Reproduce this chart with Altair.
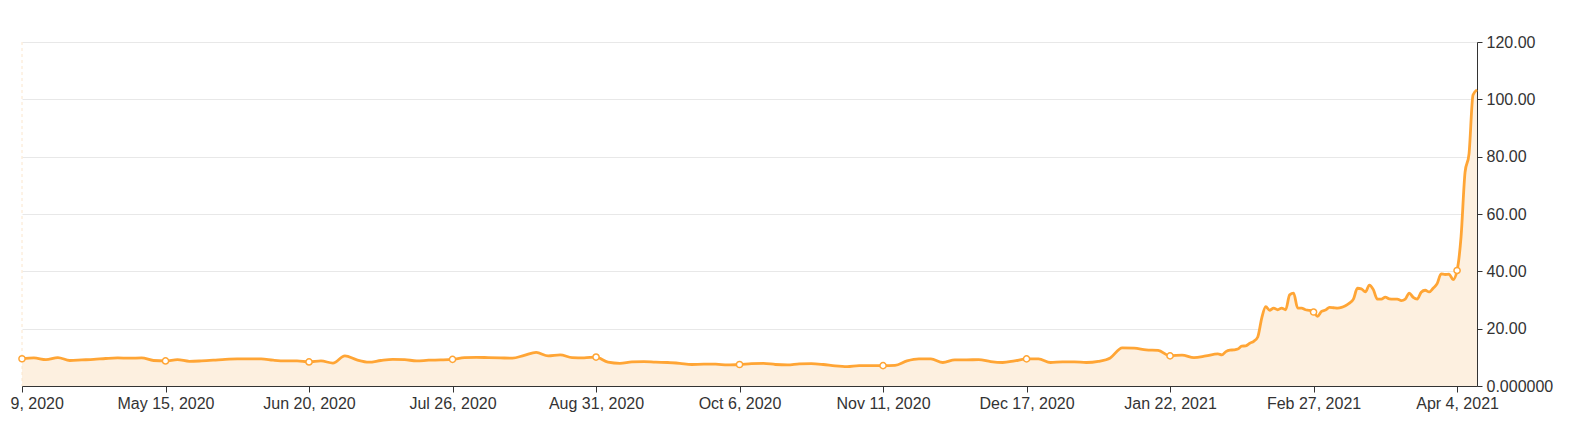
import altair as alt
import pandas as pd

start_date = "2020-04-09"

day_offsets = [
    0, 3, 6, 9, 12, 15, 18, 21, 24, 27, 30, 33, 36, 39, 42, 45, 48, 51, 54, 57,
    60, 63, 66, 69, 72, 75, 78, 81, 84, 87, 90, 93, 96, 99, 102, 105, 108, 111, 114, 117,
    120, 123, 126, 129, 132, 135, 138, 141, 144, 147, 150, 153, 156, 159, 162, 165, 168, 171, 174, 177,
    180, 183, 186, 189, 192, 195, 198, 201, 204, 207, 210, 213, 216, 219, 222, 225, 228, 231, 234, 237,
    240, 243, 246, 249, 252, 255, 258, 261, 264, 267, 270, 273, 276, 279, 282, 285, 288, 291, 294, 297,
    300, 301, 302, 303, 304, 305, 306, 307, 308, 309, 310, 311, 312, 313, 314, 315, 316, 317, 318, 319,
    320, 321, 322, 323, 324, 325, 326, 327, 328, 329, 330, 331, 332, 333, 334, 335, 336, 337, 338, 339,
    340, 341, 342, 343, 344, 345, 346, 347, 348, 349, 350, 351, 352, 353, 354, 355, 356, 357, 358, 359,
    360, 361, 362, 363, 364, 365,
]

prices = [
    9.5, 9.8, 9.2, 9.9, 8.9, 9.1, 9.3, 9.6, 9.8, 9.7, 9.8, 8.9, 8.75, 9.2, 8.6, 8.75, 9.0, 9.3, 9.45, 9.45,
    9.45, 9.0, 8.75, 8.75, 8.4, 8.75, 8.0, 10.5, 9.1, 8.3, 8.9, 9.3, 9.2, 8.75, 9.0, 9.1, 9.3, 9.9, 10.0, 9.9,
    9.8, 9.7, 10.7, 11.7, 10.5, 10.85, 9.9, 9.8, 10.1, 8.3, 7.9, 8.4, 8.5, 8.3, 8.2, 7.9, 7.5, 7.6, 7.6, 7.35,
    7.5, 7.8, 7.9, 7.5, 7.35, 7.7, 7.8, 7.5, 7.0, 6.75, 7.1, 7.1, 7.1, 7.2, 8.75, 9.45, 9.45, 8.2, 9.1, 9.1,
    9.2, 8.5, 8.2, 8.75, 9.45, 9.45, 8.2, 8.4, 8.4, 8.2, 8.6, 9.8, 13.3, 13.2, 12.6, 12.4, 10.5, 10.8, 9.9, 10.5,
    11.2, 10.85, 12.0, 12.5, 12.6, 12.9, 13.9, 14.0, 14.9, 15.6, 17.1, 23.7, 27.7, 26.4, 27.2, 26.6, 27.2, 26.6, 31.8, 32.4,
    27.2, 27.2, 26.6, 26.4, 25.8, 24.3, 26.0, 26.5, 27.4, 27.3, 27.2, 27.4, 28.0, 28.9, 30.3, 34.1, 33.9, 32.8, 35.2, 33.6,
    30.3, 30.3, 31.0, 30.4, 30.3, 30.3, 29.8, 30.3, 32.4, 30.9, 30.3, 32.7, 33.4, 32.8, 34.1, 35.7, 39.1, 38.9, 39.0, 37.1,
    40.3, 52.0, 74.5, 81.0, 101.5, 103.3,
]

tick_dates = [
    "2020-04-09", "2020-05-15", "2020-06-20", "2020-07-26", "2020-08-31", "2020-10-06",
    "2020-11-11", "2020-12-17", "2021-01-22", "2021-02-27", "2021-04-04",
]
y_ticks = [0, 20, 40, 60, 80, 100, 120]

LINE = "#FFA535"
FILL = "#FDF0E0"

base_day = pd.Timestamp(start_date)
df = pd.DataFrame({
    "date": [base_day + pd.Timedelta(days=d) for d in day_offsets],
    "price": prices,
})
tick_ts = [pd.Timestamp(t) for t in tick_dates]
df_pts = df[df["date"].isin(tick_ts)]

x_dom = [alt.DateTime(year=2020, month=4, date=9), alt.DateTime(year=2021, month=4, date=9)]
x_vals = [alt.DateTime(year=t.year, month=t.month, date=t.day) for t in tick_ts]

x_enc = alt.X(
    "date:T",
    scale=alt.Scale(domain=x_dom, nice=False),
    axis=alt.Axis(
        values=x_vals, format="%b %-d, %Y", title=None, grid=False,
        tickSize=6, tickColor="#333333", domainColor="#333333",
        labelColor="#333333", labelFontSize=16, labelPadding=3,
        labelFlush=False, labelOverlap=False,
    ),
)
y_enc = alt.Y(
    "price:Q",
    scale=alt.Scale(domain=[0, 120], nice=False),
    axis=alt.Axis(
        orient="right", values=y_ticks, title=None,
        labelExpr="datum.value == 0 ? '0.000000' : format(datum.value, '.2f')",
        tickSize=5, tickColor="#333333", domainColor="#333333",
        labelColor="#333333", labelFontSize=16, labelPadding=4,
        gridColor="#e8e8e8", gridWidth=1,
    ),
)

area = alt.Chart(df).mark_area(color=FILL, interpolate="monotone").encode(x=x_enc, y=y_enc)
line = alt.Chart(df).mark_line(color=LINE, strokeWidth=2.8, interpolate="monotone").encode(
    x="date:T", y="price:Q"
)
vrule = alt.Chart(pd.DataFrame({"date": [base_day]})).mark_rule(
    color="#FBE6CC", strokeDash=[3, 3], strokeWidth=1
).encode(x="date:T")
pts = alt.Chart(df_pts).mark_point(
    filled=True, fill="white", stroke=LINE, strokeWidth=1.5, size=38, opacity=1
).encode(x="date:T", y="price:Q")

chart = (
    alt.layer(area, vrule, line, pts)
    .properties(
        width=1455, height=344,
        autosize=alt.AutoSizeParams(type="none"),
        padding={"left": 14, "top": 34, "right": 84, "bottom": 30},
    )
    .configure_view(stroke=None)
    .configure_axis(labelFont="Liberation Sans")
)

chart.save("out.html", embed_options={"renderer": "svg", "actions": False})
